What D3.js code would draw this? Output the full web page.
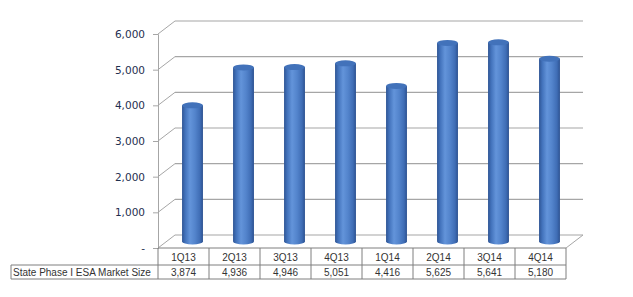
<!DOCTYPE html>
<meta charset="UTF-8">
<style>
    body { margin: 0; background: #fff; }
    svg { display: block; }
</style>
<body>
<script src="https://d3js.org/d3.v7.min.js"></script>
<script>

// chart data
var quarters = ["1Q13", "2Q13", "3Q13", "4Q13", "1Q14", "2Q14", "3Q14", "4Q14"];
var marketSize = [3874, 4936, 4946, 5051, 4416, 5625, 5641, 5180];
var yTicks = [0, 1000, 2000, 3000, 4000, 5000, 6000];
var seriesName = "State Phase I ESA Market Size";

var width = 633, height = 297;

// front plane of the 3d box
var plotLeft = 158, plotRight = 566, plotBase = 248, plotTop = 34;
// depth offset of the back wall
var dx = 17, dy = -13;

var x = d3.scaleBand().domain(quarters).range([plotLeft, plotRight]);
var y = d3.scaleLinear().domain([0, 6000]).range([plotBase, plotTop]);

var svg = d3.select("body").append("svg")
    .attr("width", width)
    .attr("height", height);

var grid = "#a6a6a6";

// back wall gridlines
svg.selectAll(".grid")
    .data(yTicks)
  .enter().append("line")
    .attr("x1", plotLeft + dx).attr("x2", plotRight + dx)
    .attr("y1", function(d) { return y(d) + dy; })
    .attr("y2", function(d) { return y(d) + dy; })
    .attr("stroke", grid).attr("stroke-width", 1.2);

// side wall diagonals
svg.selectAll(".diag")
    .data(yTicks)
  .enter().append("line")
    .attr("x1", plotLeft).attr("x2", plotLeft + dx)
    .attr("y1", function(d) { return y(d); })
    .attr("y2", function(d) { return y(d) + dy; })
    .attr("stroke", grid).attr("stroke-width", 1);

// floor right edge
svg.append("line")
    .attr("x1", plotRight).attr("y1", plotBase)
    .attr("x2", plotRight + dx).attr("y2", plotBase + dy)
    .attr("stroke", grid);

// front y axis
var yAxis = svg.append("g")
    .attr("transform", "translate(" + plotLeft + ",0)")
    .call(d3.axisLeft(y).tickValues(yTicks).tickSize(5).tickPadding(8)
        .tickFormat(function(d) { return d === 0 ? "-" : d3.format(",")(d); }));
yAxis.select(".domain").attr("stroke", grid);
yAxis.selectAll(".tick line").attr("stroke", grid);
yAxis.selectAll("text")
    .attr("font-family", "DejaVu Sans, Verdana, sans-serif")
    .attr("font-size", "10.5px")
    .attr("fill", "#1f2f4f");

// cylinder gradient
var defs = svg.append("defs");
var grad = defs.append("linearGradient").attr("id", "cyl")
    .attr("x1", "0%").attr("x2", "100%").attr("y1", "0%").attr("y2", "0%");
[["0%", "#2f5594"], ["15%", "#4272bb"], ["38%", "#6394da"], ["62%", "#5384cc"],
 ["86%", "#3f6db5"], ["100%", "#2c5190"]].forEach(function(s) {
    grad.append("stop").attr("offset", s[0]).attr("stop-color", s[1]);
});

// bars as cylinders at mid depth
var bw = x.bandwidth() * 0.41;
var ox = 9, oy = -6.5, ry = 3;
var bars = svg.selectAll(".bar")
    .data(quarters)
  .enter().append("g")
    .attr("class", "bar");

bars.append("path")
    .attr("d", function(d, i) {
        var cx = x(d) + x.bandwidth() / 2 + ox;
        var yt = y(marketSize[i]) + oy + 2, yb = y(0) + oy;
        return "M" + (cx - bw / 2) + "," + yt +
            "L" + (cx - bw / 2) + "," + yb +
            "A" + (bw / 2) + "," + ry + " 0 0 0 " + (cx + bw / 2) + "," + yb +
            "L" + (cx + bw / 2) + "," + yt + "Z";
    })
    .attr("fill", "url(#cyl)");

bars.append("ellipse")
    .attr("cx", function(d) { return x(d) + x.bandwidth() / 2 + ox; })
    .attr("cy", function(d, i) { return y(marketSize[i]) + oy + 2; })
    .attr("rx", bw / 2).attr("ry", ry)
    .attr("fill", "#4272ba");

// data table
var row2 = plotBase + 17, row3 = 279;
var tbl = svg.append("g").attr("stroke", "#7f7f7f").attr("stroke-width", 1).attr("fill", "none");
tbl.append("line").attr("x1", plotLeft).attr("x2", plotRight).attr("y1", plotBase).attr("y2", plotBase);
tbl.append("line").attr("x1", 11).attr("x2", plotRight).attr("y1", row2).attr("y2", row2);
tbl.append("line").attr("x1", 11).attr("x2", plotRight).attr("y1", row3).attr("y2", row3);
tbl.append("line").attr("x1", 11).attr("x2", 11).attr("y1", row2).attr("y2", row3);
tbl.selectAll(".col")
    .data(quarters.concat(["end"]))
  .enter().append("line")
    .attr("x1", function(d, i) { return plotLeft + i * x.bandwidth(); })
    .attr("x2", function(d, i) { return plotLeft + i * x.bandwidth(); })
    .attr("y1", plotBase).attr("y2", row3);

var tf = "Liberation Sans, Arial, sans-serif";
svg.selectAll(".cat")
    .data(quarters)
  .enter().append("text")
    .attr("x", function(d) { return x(d) + x.bandwidth() / 2; })
    .attr("y", plotBase + 12.5)
    .attr("text-anchor", "middle")
    .attr("font-family", tf).attr("font-size", "10px").attr("fill", "#333")
    .text(function(d) { return d; });

svg.selectAll(".val")
    .data(quarters)
  .enter().append("text")
    .attr("x", function(d) { return x(d) + x.bandwidth() / 2; })
    .attr("y", row2 + 10.5)
    .attr("text-anchor", "middle")
    .attr("font-family", tf).attr("font-size", "10px").attr("fill", "#333")
    .text(function(d, i) { return d3.format(",")(marketSize[i]); });

svg.append("text")
    .attr("x", 13).attr("y", row2 + 10.5)
    .attr("font-family", tf).attr("font-size", "10px").attr("fill", "#333")
    .text(seriesName);

</script>
</body>
